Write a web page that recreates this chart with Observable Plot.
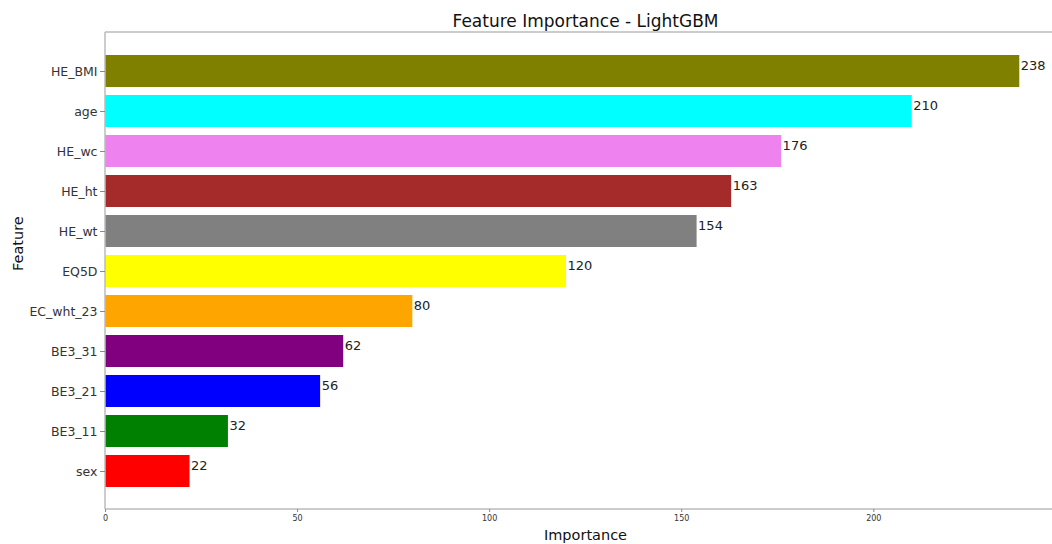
<!DOCTYPE html>
<html>
<head>
<meta charset="utf-8">
<script src="https://cdn.jsdelivr.net/npm/d3@7"></script>
<script src="https://cdn.jsdelivr.net/npm/@observablehq/plot@0.6"></script>
<style>
  html, body { margin: 0; padding: 0; background: #fff; overflow: hidden; }
  #chart svg { overflow: hidden; }
</style>
</head>
<body>
<div id="chart"></div>
<script>
const features = ["HE_BMI", "age", "HE_wc", "HE_ht", "HE_wt", "EQ5D", "EC_wht_23", "BE3_31", "BE3_21", "BE3_11", "sex"];
const importance = [238, 210, 176, 163, 154, 120, 80, 62, 56, 32, 22];
const colors = ["#808000", "#00ffff", "#ee82ee", "#a52a2a", "#808080", "#ffff00", "#ffa500", "#800080", "#0000ff", "#008000", "#ff0000"];
const xTicks = [0, 50, 100, 150, 200];

const data = features.map((f, i) => ({feature: f, value: importance[i], color: colors[i]}));

const W = 1052, H = 544;
const mL = 105, mT = 32, mB = 35, mR = -13;
const font = "DejaVu Sans, sans-serif";

// spines: left, top, bottom (right spine lies beyond the visible area)
function spines(index, scales, values, dims) {
  const g = d3.create("svg:g").attr("stroke", "#bbb").attr("stroke-width", 1.5).attr("fill", "none");
  const x0 = dims.marginLeft, x1 = dims.width - dims.marginRight;
  const y0 = dims.marginTop, y1 = dims.height - dims.marginBottom;
  g.append("line").attr("x1", x0).attr("x2", x1).attr("y1", y0).attr("y2", y0);
  g.append("line").attr("x1", x0).attr("x2", x1).attr("y1", y1).attr("y2", y1);
  g.append("line").attr("x1", x0).attr("x2", x0).attr("y1", y0).attr("y2", y1);
  return g.node();
}

const chart = Plot.plot({
  width: W,
  height: H,
  marginLeft: mL,
  marginRight: mR,
  marginTop: mT,
  marginBottom: mB,
  style: {fontFamily: font, background: "#fff", overflow: "hidden"},
  x: {domain: [0, 249.9], label: null},
  y: {domain: features, label: null, paddingInner: 0.2, paddingOuter: 0.547},
  marks: [
    Plot.barX(data, {x: "value", y: "feature", fill: "color"}),
    Plot.text(data, {x: "value", y: "feature", text: d => String(d.value), textAnchor: "start", dx: 1, dy: -6, fontSize: 13, fill: "#222"}),
    spines,
    Plot.axisY({tickSize: 5, tickPadding: 3, fontSize: 12.5, color: "#333", stroke: "#888", label: null}),
    Plot.axisX({ticks: xTicks, tickSize: 3, tickPadding: 3, fontSize: 8, color: "#333", stroke: "#888", label: null}),
    Plot.text(["Feature Importance - LightGBM"], {frameAnchor: "top", dy: -11, fontSize: 17, fill: "#111", lineAnchor: "middle"}),
    Plot.text(["Importance"], {frameAnchor: "bottom", dy: 26, fontSize: 14.5, fill: "#111", lineAnchor: "middle"}),
    Plot.text(["Feature"], {frameAnchor: "left", dx: -87, rotate: -90, fontSize: 14.5, fill: "#111", lineAnchor: "middle"})
  ]
});
document.getElementById("chart").appendChild(chart);
</script>
</body>
</html>
